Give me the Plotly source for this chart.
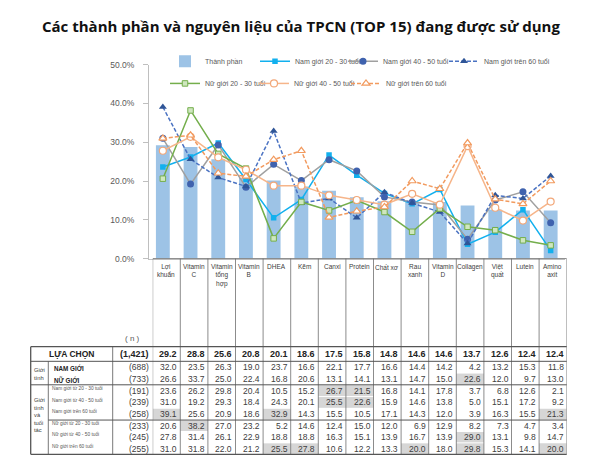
import plotly.graph_objects as go

W, H = 602, 474

# ---------------- data ----------------
categories = ["Lợi khuẩn", "Vitamin C", "Vitamin tổng hợp", "Vitamin B", "DHEA", "Kẽm", "Canxi",
              "Protein", "Chất xơ", "Rau xanh", "Vitamin D", "Collagen", "Việt quất", "Lutein", "Amino axit"]
cat_labels = ["Lợi<br>khuẩn", "Vitamin<br>C", "Vitamin<br>tổng<br>hợp", "Vitamin<br>B", "DHEA", "Kẽm", "Canxi",
              "Protein", "Chất xơ", "Rau<br>xanh", "Vitamin<br>D", "Collagen", "Việt<br>quất", "Lutein", "Amino<br>axit"]

overall = [29.2, 28.8, 25.6, 20.8, 20.1, 18.6, 17.5, 15.8, 14.8, 14.6, 14.6, 13.7, 12.6, 12.4, 12.4]
nam_gioi = [32.0, 23.5, 26.3, 19.0, 23.7, 16.6, 22.1, 17.7, 16.6, 14.4, 14.2, 4.2, 13.2, 15.3, 11.8]
nu_gioi = [26.6, 33.7, 25.0, 22.4, 16.8, 20.6, 13.1, 14.1, 13.1, 14.7, 15.0, 22.6, 12.0, 9.7, 13.0]
nam_20_30 = [23.6, 26.2, 29.8, 20.4, 10.5, 15.2, 26.7, 21.5, 16.8, 14.1, 17.8, 3.7, 6.8, 12.6, 2.1]
nam_40_50 = [31.0, 19.2, 29.3, 18.4, 24.3, 20.1, 25.5, 22.6, 15.9, 14.6, 13.8, 5.0, 15.1, 17.2, 9.2]
nam_60 = [39.1, 25.6, 20.9, 18.6, 32.9, 14.3, 15.5, 10.5, 17.1, 14.3, 12.0, 3.9, 16.3, 15.5, 21.3]
nu_20_30 = [20.6, 38.2, 27.0, 23.2, 5.2, 14.6, 12.4, 15.0, 12.0, 6.9, 12.9, 8.2, 7.3, 4.7, 3.4]
nu_40_50 = [27.8, 31.4, 26.1, 22.9, 18.8, 18.8, 16.3, 15.1, 13.9, 16.7, 13.9, 29.0, 13.1, 9.8, 14.7]
nu_60 = [31.0, 31.8, 22.0, 21.2, 25.5, 27.8, 10.6, 12.2, 13.3, 20.0, 18.0, 29.8, 15.3, 14.1, 20.0]

n_total = "(1,421)"
row_n = [688, 733, 191, 239, 258, 233, 245, 255]
row_values = [nam_gioi, nu_gioi, nam_20_30, nam_40_50, nam_60, nu_20_30, nu_40_50, nu_60]
row_labels = ["NAM GIỚI", "NỮ GIỚI", "Nam giới từ 20 - 30 tuổi", "Nam giới từ 40 - 50 tuổi",
              "Nam giới trên 60 tuổi", "Nữ giới từ 20 - 30 tuổi", "Nữ giới từ 40 - 50 tuổi",
              "Nữ giới trên 60 tuổi"]

series_names = ["Nam giới 20 - 30 tuổi", "Nam giới 40 - 50 tuổi", "Nam giới trên 60 tuổi",
                "Nữ giới 20 - 30 tuổi", "Nữ giới 40 - 50 tuổi", "Nữ giới trên 60 tuổi"]
series_values = [nam_20_30, nam_40_50, nam_60, nu_20_30, nu_40_50, nu_60]

title_text = "Các thành phần và nguyên liệu của TPCN (TOP 15) đang được sử dụng"

# ---------------- styles ----------------
series_styles = [
    dict(line=dict(color="#12B0EE", width=1.5), marker=dict(symbol="square", size=5.5, color="#12B0EE")),
    dict(line=dict(color="#A0A0A0", width=1.5), marker=dict(symbol="circle", size=7, color="#3F62AE")),
    dict(line=dict(color="#4A72C2", width=1.5, dash="4px,2px"), marker=dict(symbol="triangle-up", size=7, color="#2F5597")),
    dict(line=dict(color="#74AE4C", width=1.5), marker=dict(symbol="square", size=5.5, color="#CFE7BF", line=dict(color="#74AE4C", width=1))),
    dict(line=dict(color="#F6B58A", width=1.5), marker=dict(symbol="circle", size=7, color="#FFFFFF", line=dict(color="#F2A779", width=1.2))),
    dict(line=dict(color="#F29A5E", width=1.5, dash="4px,2px"), marker=dict(symbol="triangle-up", size=7, color="#FFFFFF", line=dict(color="#F29A5E", width=1.2))),
]
series_legend = ["legend", "legend", "legend", "legend2", "legend2", "legend2"]
series_lw = [43, 56, 75, 44, 47, 60]

def px(x):
    return x / W

def py(y):
    return 1 - y / H

fig = go.Figure()

fig.add_trace(go.Bar(x=categories, y=overall, name="Thành phần", width=0.5,
                     marker=dict(color="#9DC3E6", line=dict(width=0)),
                     legend="legend", legendwidth=45))

for name, vals, st, lg, lw in zip(series_names, series_values, series_styles, series_legend, series_lw):
    fig.add_trace(go.Scatter(x=categories, y=vals, name=name, mode="lines+markers",
                             line=st["line"], marker=st["marker"], legend=lg, legendwidth=lw))

# helper subplot in pixel-like coordinates for the table (columns aligned with categories)
fig.add_trace(go.Scatter(x=[None], y=[None], xaxis="x2", yaxis="y2", showlegend=False, hoverinfo="skip"))

annotations = []
shapes = []

TXT = "#404040"
FONT = "Liberation Sans, Arial, sans-serif"

# title
annotations.append(dict(text="<b>" + title_text + "</b>", x=0.5, y=py(21), xref="paper", yref="paper",
                        showarrow=False, xanchor="center", yanchor="middle",
                        font=dict(family="Open Sans, sans-serif", size=15, color="#111111")))

# category label box
col_left, col_right = -0.5, len(categories) - 0.5
for i, lab in enumerate(cat_labels):
    annotations.append(dict(text=lab, x=i, y=261.5, xref="x2", yref="y2", showarrow=False,
                            xanchor="center", yanchor="top", align="center",
                            font=dict(family=FONT, size=6.5, color=TXT)))
for k in range(len(categories) + 1):
    shapes.append(dict(type="line", xref="x2", yref="y2", x0=k - 0.5, x1=k - 0.5, y0=259, y1=459,
                       line=dict(color="#6E6E6E", width=0.8)))
shapes.append(dict(type="line", xref="x2", yref="y2", x0=col_left, x1=col_right, y0=259, y1=259,
                   line=dict(color="#6E6E6E", width=0.8)))

# table geometry (pixel rows)
tbl_left, tbl_top, tbl_bottom = 30.7, 349, 459
grp_col, lab_col = 48.3, 112.7
header_bottom = 364
row_edges = [364, 376, 388, 400, 412, 424, 435.7, 447.3, 459]
row_centers = [(row_edges[j] + row_edges[j + 1]) / 2 for j in range(8)]

# highlighted cells: subgroup share at least 5 points above total
for r, vals in enumerate(row_values):
    for i, v in enumerate(vals):
        if v - overall[i] >= 5:
            shapes.append(dict(type="rect", xref="x2", yref="y2", x0=i - 0.5, x1=i + 0.5,
                               y0=row_edges[r] + 0.5, y1=row_edges[r + 1] - 0.5,
                               fillcolor="#D6D6D6", line=dict(width=0), layer="below"))

LC = "#555555"
def hline(x0, x1, y, w=1):
    shapes.append(dict(type="line", xref="paper", yref="y2", x0=px(x0), x1=px(x1), y0=y, y1=y,
                       line=dict(color=LC, width=w)))

def vline(x, y0, y1, w=1):
    shapes.append(dict(type="line", xref="paper", yref="y2", x0=px(x), x1=px(x), y0=y0, y1=y1,
                       line=dict(color=LC, width=w)))

hline(tbl_left, 566.7, tbl_top, 1.3)
hline(tbl_left, 566.7, tbl_bottom, 1.3)
hline(tbl_left, 566.7, header_bottom, 1)
hline(tbl_left, 566.7, row_edges[2], 1)
hline(grp_col, 566.7, row_edges[5], 1)
vline(tbl_left, tbl_top, tbl_bottom, 1.3)
vline(grp_col, header_bottom, tbl_bottom, 0.8)
vline(lab_col, tbl_top, tbl_bottom, 0.8)

# "(n)" label
annotations.append(dict(text="( n )", x=px(132.7), y=341, xref="paper", yref="y2", showarrow=False,
                        xanchor="center", yanchor="middle", font=dict(family=FONT, size=8, color="#595959")))

# header row
hdr_y = (tbl_top + header_bottom) / 2
annotations.append(dict(text="<b>LỰA CHỌN</b>", x=px(71.7), y=hdr_y, xref="paper", yref="y2",
                        showarrow=False, xanchor="center", yanchor="middle",
                        font=dict(family=FONT, size=8.5, color="#222222")))
annotations.append(dict(text="<b>" + n_total + "</b>", x=px(151), y=hdr_y, xref="paper", yref="y2",
                        showarrow=False, xanchor="right", yanchor="middle",
                        font=dict(family=FONT, size=9, color="#222222")))
for i, v in enumerate(overall):
    annotations.append(dict(text="<b>%.1f</b>" % v, x=i + 0.5, y=hdr_y, xref="x2", yref="y2",
                            showarrow=False, xanchor="right", yanchor="middle", xshift=-1,
                            font=dict(family=FONT, size=9, color="#222222")))

# group labels
annotations.append(dict(text="Giới<br>tính", x=px(32), y=(row_edges[0] + row_edges[2]) / 2 + 1,
                        xref="paper", yref="y2", showarrow=False, xanchor="left", yanchor="middle",
                        align="left", font=dict(family=FONT, size=5.8, color=TXT)))
annotations.append(dict(text="Giới<br>tính<br>và<br>tuổi<br>tác", x=px(32), y=419,
                        xref="paper", yref="y2", showarrow=False, xanchor="left", yanchor="middle",
                        align="left", font=dict(family=FONT, size=5.8, color=TXT)))

# data rows
for r, (lab, n, vals) in enumerate(zip(row_labels, row_n, row_values)):
    yc = row_centers[r]
    if r < 2:
        annotations.append(dict(text="<b>" + lab + "</b>", x=px(51.5), y=yc + 1, xref="paper", yref="y2",
                                showarrow=False, xanchor="left", yanchor="middle",
                                font=dict(family=FONT, size=6.3, color="#222222")))
    else:
        annotations.append(dict(text=lab, x=px(50), y=yc - 3, xref="paper", yref="y2",
                                showarrow=False, xanchor="left", yanchor="middle",
                                font=dict(family=FONT, size=4.8, color="#555555")))
    annotations.append(dict(text="(%d)" % n, x=px(151), y=yc, xref="paper", yref="y2",
                            showarrow=False, xanchor="right", yanchor="middle",
                            font=dict(family=FONT, size=8.5, color=TXT)))
    for i, v in enumerate(vals):
        annotations.append(dict(text="%.1f" % v, x=i + 0.5, y=yc, xref="x2", yref="y2",
                                showarrow=False, xanchor="right", yanchor="middle", xshift=-1,
                                font=dict(family=FONT, size=8.5, color=TXT)))

leg_font = dict(family=FONT, size=7, color="#595959")

fig.update_layout(
    width=W, height=H,
    margin=dict(l=0, r=0, t=0, b=0),
    paper_bgcolor="white",
    plot_bgcolor="rgba(0,0,0,0)",
    showlegend=True,
    barmode="overlay",
    xaxis=dict(domain=[px(149), px(564.5)], type="category", categoryarray=categories,
               categoryorder="array", range=[-0.5, len(categories) - 0.5],
               showticklabels=False, ticks="", showline=True, linecolor="#BFBFBF", linewidth=1,
               showgrid=False, zeroline=False, anchor="y", fixedrange=True),
    yaxis=dict(domain=[py(259), py(61)], range=[0, 50], dtick=10, tick0=0,
               tickformat=".1f", ticksuffix="%", showline=True, linecolor="#BFBFBF", linewidth=1,
               ticks="outside", ticklen=5, tickcolor="#BFBFBF", ticklabelstandoff=7,
               tickfont=dict(family=FONT, size=8.5, color="#595959"),
               showgrid=False, zeroline=False, anchor="x", fixedrange=True),
    xaxis2=dict(domain=[px(152.7), px(566.7)], range=[-0.5, len(categories) - 0.5],
                visible=False, anchor="y2", fixedrange=True),
    yaxis2=dict(domain=[0, 1], range=[H, 0], visible=False, anchor="x2", fixedrange=True),
    legend=dict(orientation="h", x=px(165), y=py(42.7), xanchor="left", yanchor="top",
                font=leg_font, bgcolor="rgba(0,0,0,0)", borderwidth=0, itemwidth=30,
                traceorder="normal", itemclick=False, itemdoubleclick=False),
    legend2=dict(orientation="h", x=px(165), y=py(65.3), xanchor="left", yanchor="top",
                 font=leg_font, bgcolor="rgba(0,0,0,0)", borderwidth=0, itemwidth=30,
                 traceorder="normal", itemclick=False, itemdoubleclick=False),
    annotations=annotations,
    shapes=shapes,
)

fig.write_html("out.html")
